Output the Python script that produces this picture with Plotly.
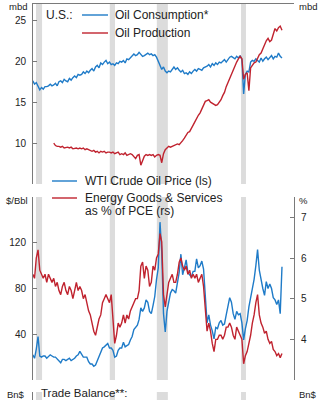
import pandas as pd
import plotly.graph_objects as go

# ---------------- data (quarterly) ----------------
# U.S. oil consumption, mbd (1990Q1 - 2025Q4)
consumption = [
    17.6, 17.2, 17.4, 17.0,  16.5, 16.8, 16.6, 16.9,  16.9, 17.0, 17.2, 17.0,
    17.1, 17.3, 17.0, 17.5,  17.6, 17.4, 17.8, 17.6,  17.5, 17.9, 17.7, 18.0,
    18.2, 18.0, 18.4, 18.3,  18.4, 18.7, 18.5, 18.8,  18.6, 18.9, 19.1, 18.8,
    19.3, 19.5, 19.2, 19.8,  19.6, 19.9, 20.1, 19.7,  19.9, 19.6, 19.7, 19.5,
    19.8, 19.7, 20.0, 19.9,  20.1, 19.8, 20.3, 20.2,  20.4, 20.6, 20.9, 20.7,
    20.8, 21.1, 20.9, 20.6,  20.7, 20.9, 21.0, 20.8,  20.9, 20.7, 20.8, 20.5,
    20.0, 19.6, 19.0, 19.3,  18.8, 18.6, 18.8, 18.7,  19.1, 19.3, 19.0, 19.2,
    18.9, 18.7, 18.9, 18.5,  18.6, 18.4, 18.7, 18.5,  18.8, 19.0, 18.8, 19.1,
    19.0, 18.9, 19.2, 19.3,  19.4, 19.6, 19.3, 19.7,  19.5, 19.8, 19.6, 19.9,
    19.8, 20.0, 20.2, 19.9,  20.3, 20.5, 20.6, 20.4,  20.3, 20.6, 20.4, 20.7,
    20.2, 16.0, 18.4, 18.8,  18.7, 19.9, 20.1, 20.0,  20.3, 20.1, 19.9, 20.4,
    20.0, 20.3, 20.5, 20.2,  20.4, 20.7, 20.3, 20.6,  20.5, 21.0, 20.6, 20.4,
]

# U.S. oil production, mbd (1993Q1 - 2025Q4)
production = [
    10.0, 9.7, 9.6, 9.6,  9.5, 9.6, 9.4, 9.5,  9.5, 9.4, 9.5, 9.3,
    9.4, 9.4, 9.3, 9.4,  9.3, 9.4, 9.2, 9.3,  9.2, 9.1, 9.0, 9.1,
    8.9, 9.0, 8.8, 9.0,  8.9, 9.0, 8.8, 8.9,  8.9, 8.8, 8.9, 8.7,
    8.8, 8.9, 8.6, 8.7,  8.6, 8.8, 8.5, 8.6,  8.7, 8.6, 8.4, 8.1,
    8.5, 8.6, 7.3, 7.9,  8.4, 8.6, 8.5, 8.6,  8.5, 8.6, 8.3, 8.5,
    8.6, 8.5, 7.6, 8.7,  9.2, 9.4, 9.6, 9.5,  9.6, 9.7, 9.8, 9.9,
    9.8, 10.0, 10.3, 10.6,  10.9, 11.3, 11.4, 11.9,  12.2, 12.6, 13.1, 13.4,
    13.7, 14.2, 14.8, 15.1,  15.2, 15.3, 15.0, 14.9,  14.8, 14.6, 14.7, 15.0,
    15.3, 15.8, 16.2, 16.9,  17.4, 17.9, 18.6, 19.1,  19.6, 19.9, 20.3, 20.6,
    20.3, 17.8, 18.4, 18.6,  16.4, 19.2, 19.5, 19.8,  19.9, 20.3, 20.8, 21.0,
    21.5, 22.2, 22.5, 22.8,  22.4, 22.6, 23.2, 24.0,  23.7, 24.1, 24.3, 23.8,
]

# WTI crude oil price, $/bbl (1990Q1 - 2025Q4)
wti = [
    22, 19, 27, 38,  21, 20, 21, 21,  19, 21, 22, 21,  20, 20, 18, 16,
    15, 18, 18, 17,  18, 19, 17, 18,  19, 21, 22, 25,  23, 20, 20, 20,
    16, 14, 14, 12,  13, 17, 21, 24,  28, 29, 31, 32,  28, 28, 26, 20,
    21, 26, 28, 28,  33, 29, 30, 31,  35, 38, 44, 46,  48, 53, 63, 60,
    63, 70, 68, 60,  58, 65, 73, 88,  98, 138, 112, 58,  42, 60, 70, 76,
    79, 78, 76, 85,  94, 110, 92, 98,  105, 94, 92, 90,  95, 95, 106, 98,
    100, 104, 97, 76,  50, 57, 48, 43,  36, 46, 45, 50,  52, 48, 49, 57,
    64, 72, 68, 58,  53, 60, 57, 58,  50, 35, 45, 52,  64, 72, 80, 88,
    100, 114, 96, 86,  80, 74, 86, 80,  84, 80, 72, 70,  66, 70, 58, 99,
]

# Energy goods & services as % of PCE (1990Q1 - 2025Q4)
energy_share = [
    5.6, 5.5, 6.0, 6.2,  5.7, 5.6, 5.5, 5.6,  5.4, 5.6, 5.5, 5.4,
    5.5, 5.3, 5.4, 5.2,  5.1, 5.3, 5.4, 5.2,  5.1, 5.3, 5.2, 5.0,
    5.2, 5.4, 5.2, 5.3,  5.2, 5.0, 5.1, 4.9,  4.7, 4.6, 4.4, 4.2,
    4.1, 4.3, 4.5, 4.6,  4.9, 5.0, 5.1, 5.0,  4.9, 5.1, 4.5, 3.9,
    4.1, 4.4, 4.3, 4.4,  4.6, 4.4, 4.6, 4.5,  4.7, 4.8, 4.9, 5.0,
    5.0, 5.2, 5.8, 5.9,  5.5, 5.8, 5.7, 5.3,  5.4, 5.8, 5.7, 6.0,
    6.1, 6.6, 6.4, 5.1,  4.8, 5.1, 5.4, 5.5,  5.6, 5.4, 5.4, 5.6,
    5.9, 6.0, 5.8, 5.7,  5.8, 5.6, 5.7, 5.5,  5.6, 5.5, 5.6, 5.4,
    5.5, 5.6, 5.3, 4.8,  4.2, 4.4, 4.2, 3.9,  3.7, 4.0, 4.0, 4.1,
    4.1, 4.0, 4.1, 4.3,  4.3, 4.4, 4.3, 4.1,  4.0, 4.3, 4.2, 4.1,
    4.0, 3.4, 3.6, 3.7,  3.9, 4.1, 4.4, 4.6,  4.9, 5.1, 4.6, 4.4,
    4.3, 4.15, 4.2, 4.0,  3.9, 3.95, 3.75, 3.7,  3.6, 3.65, 3.55, 3.65,
]

# Recession periods (shaded)
recessions = [
    ("1990-08-01", "1991-06-15"),
    ("2001-03-01", "2001-12-01"),
    ("2007-12-01", "2009-07-01"),
    ("2020-01-01", "2020-09-15"),
]

# ---------------- dates ----------------
def quarter_dates(start, n):
    return pd.period_range(start, periods=n, freq="Q").to_timestamp(how="start") + pd.Timedelta(days=45)

dates_all = quarter_dates("1990Q1", len(consumption))
dates_prod = quarter_dates("1993Q1", len(production))

BLUE = "#1f7bc8"
RED = "#c0232f"
GRID_GRAY = "#dcdcdc"
AXIS_GRAY = "#7a7a7a"
TEXT = "#222222"
FONT = "Arial, Liberation Sans, sans-serif"

W, H = 324, 400
X_RANGE = ["1990-02-24", "2027-08-07"]


def px(x):
    return x / W


def py(y):
    return 1 - y / H


fig = go.Figure()

fig.add_trace(go.Scatter(x=dates_all, y=consumption, mode="lines",
                         line=dict(color=BLUE, width=1.4), xaxis="x", yaxis="y"))
fig.add_trace(go.Scatter(x=dates_prod, y=production, mode="lines",
                         line=dict(color=RED, width=1.4), xaxis="x", yaxis="y"))
fig.add_trace(go.Scatter(x=dates_all, y=energy_share, mode="lines",
                         line=dict(color=RED, width=1.4), xaxis="x2", yaxis="y5"))
fig.add_trace(go.Scatter(x=dates_all, y=wti, mode="lines",
                         line=dict(color=BLUE, width=1.4), xaxis="x2", yaxis="y2"))

x_dom = [px(33), px(294)]
d1 = [py(184), py(4)]
d2 = [py(380), py(197)]
d3 = [0, py(392)]

tickfont = dict(family=FONT, size=10, color=TEXT)
common_y = dict(showgrid=False, zeroline=False, showline=True, linecolor=AXIS_GRAY,
                linewidth=1, ticks="inside", ticklen=4, tickcolor=AXIS_GRAY,
                tickfont=tickfont, ticklabelstandoff=4)
common_x = dict(domain=x_dom, range=X_RANGE, type="date", showgrid=False,
                zeroline=False, showticklabels=False, ticks="")

fig.update_layout(
    width=W, height=H, margin=dict(l=0, r=0, t=0, b=0),
    paper_bgcolor="white", plot_bgcolor="white", showlegend=False,
    font=dict(family=FONT, color=TEXT),
    xaxis=dict(**common_x, anchor="y", side="top", showline=True,
               linecolor=AXIS_GRAY, linewidth=1),
    xaxis2=dict(**common_x, anchor="y2", showline=False),
    xaxis3=dict(**common_x, anchor="y3", showline=False),
    yaxis=dict(**common_y, domain=d1, range=[5, 27], tickvals=[10, 15, 20, 25],
               anchor="x", side="left"),
    yaxis4=dict(**common_y, domain=d1, range=[5, 27], tickvals=[10, 15, 20, 25],
                anchor="x", overlaying="y", side="right"),
    yaxis2=dict(**common_y, domain=d2, range=[0, 160], tickvals=[40, 80, 120],
                anchor="x2", side="left"),
    yaxis5=dict(**common_y, domain=d2, range=[3, 7.5], tickvals=[4, 5, 6, 7],
                anchor="x2", overlaying="y2", side="right"),
    yaxis3=dict(showgrid=False, zeroline=False, showline=True, linecolor=AXIS_GRAY,
                showticklabels=False, ticks="", domain=d3, range=[0, 1],
                anchor="x3", side="left"),
    yaxis6=dict(showgrid=False, zeroline=False, showline=True, linecolor=AXIS_GRAY,
                showticklabels=False, ticks="", domain=d3, range=[0, 1],
                anchor="x3", overlaying="y3", side="right"),
)

# recession shading in each panel
shapes = []
for xr, yr in (("x", "y domain"), ("x2", "y2 domain"), ("x3", "y3 domain")):
    for start, end in recessions:
        shapes.append(dict(type="rect", xref=xr, yref=yr, x0=start, x1=end,
                           y0=0, y1=1, fillcolor=GRID_GRAY, line=dict(width=0),
                           layer="below"))

# legend keys
def key(x0, x1, y, color):
    return dict(type="line", xref="paper", yref="paper", x0=px(x0), x1=px(x1),
                y0=py(y), y1=py(y), line=dict(color=color, width=1.4))

shapes += [key(82, 108, 15, BLUE), key(82, 108, 33, RED),
           key(52, 77, 181, BLUE), key(52, 77, 198, RED)]
fig.update_layout(shapes=shapes)


def label(text, x, y, size=12, anchor="left"):
    return dict(text=text, xref="paper", yref="paper", x=px(x), y=py(y),
                xanchor=anchor, yanchor="middle", showarrow=False,
                font=dict(family=FONT, size=size, color=TEXT))


fig.update_layout(annotations=[
    label("mbd", 18, 7, 9.5, "center"),
    label("mbd", 308, 7, 9.5, "center"),
    label("U.S.:", 44, 15),
    label("Oil Consumption*", 113, 15),
    label("Oil Production", 113, 33),
    label("$/Bbl", 17, 200, 9.5, "center"),
    label("%", 297, 200, 9.5, "left"),
    label("WTI Crude Oil Price (ls)", 83, 181),
    label("Energy Goods & Services", 83, 198),
    label("as % of PCE (rs)", 83, 211),
    label("Bn$", 16, 394, 9.5, "center"),
    label("Bn$", 308, 394, 9.5, "center"),
    label("Trade Balance**:", 39, 392.5, 11.5),
])

fig.write_html("out.html")
